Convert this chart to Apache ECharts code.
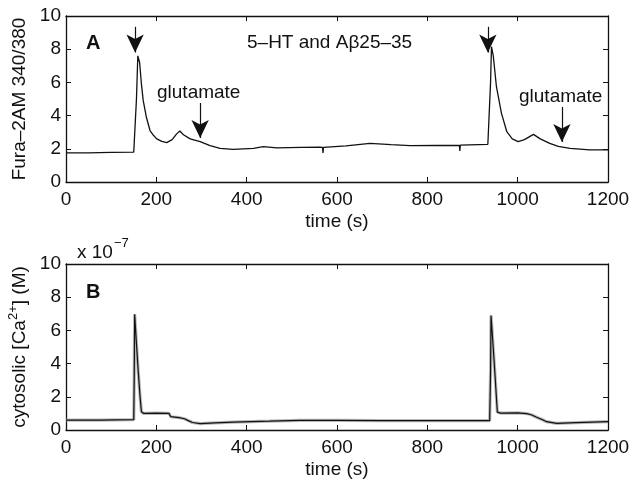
<!DOCTYPE html>
<html>
<head>
<meta charset="utf-8">
<script src="https://cdn.jsdelivr.net/npm/echarts@6.0.0/dist/echarts.min.js"></script>
<style>
  html, body { margin: 0; padding: 0; background: #fff; }
  #chart { width: 632px; height: 482px; }
</style>
</head>
<body>
<div id="chart"></div>
<script>
// time axis ticks (s) and value ticks
const timeTicks = [0, 200, 400, 600, 800, 1000, 1200];
const valueTicks = [0, 2, 4, 6, 8, 10];

// panel A: Fura-2AM 340/380 ratio, [time (s), ratio]
const furaRatio = [
  [0, 1.75], [50, 1.76], [100, 1.78], [150, 1.8], [154, 1.82], [156, 5.0], [159, 7.6],
  [163, 7.2], [167, 5.9], [171, 4.9], [178, 3.9], [186, 3.1], [194, 2.8], [201, 2.6],
  [212, 2.45], [223, 2.37], [235, 2.55], [245, 2.9], [252, 3.07], [260, 2.85], [275, 2.6],
  [297, 2.43], [319, 2.19], [341, 2.03], [370, 1.97], [415, 2.03], [437, 2.13], [467, 2.05],
  [520, 2.08], [562, 2.1], [568, 2.08], [569, 1.75], [570, 2.08], [620, 2.18], [673, 2.33],
  [720, 2.25], [762, 2.19], [820, 2.2], [871, 2.2], [872, 1.87], [873, 2.22], [934, 2.27],
  [938, 2.3], [940, 6.0], [942, 8.15], [946, 7.6], [953, 5.74], [964, 4.15], [976, 3.03],
  [988, 2.6], [1001, 2.43], [1015, 2.55], [1035, 2.87], [1050, 2.6], [1071, 2.33],
  [1090, 2.15], [1116, 2.03], [1160, 1.93], [1200, 1.93]
];

// panel B: cytosolic [Ca2+] in units of 1e-7 M, [time (s), conc]
const cytoCa = [
  [0, 0.6], [75, 0.6], [150, 0.62], [151, 3.0], [152, 6.97], [156, 5.2], [160, 3.5],
  [164, 2.0], [167, 1.1], [172, 1.0], [200, 1.02], [228, 1.0], [232, 0.8], [250, 0.75],
  [262, 0.68], [272, 0.55], [280, 0.45], [297, 0.38], [330, 0.43], [370, 0.48], [450, 0.53],
  [518, 0.58], [600, 0.58], [700, 0.56], [800, 0.56], [900, 0.56], [938, 0.56], [940, 3.5],
  [941, 6.9], [948, 4.1], [955, 1.08], [962, 1.02], [1000, 1.03], [1020, 0.99], [1030, 0.92],
  [1042, 0.77], [1055, 0.62], [1064, 0.5], [1086, 0.4], [1130, 0.45], [1200, 0.5]
];

// stimulus arrows in panel A: [time, from, to]
const arrowsA = [[153, 9.35, 7.8], [297, 4.76, 2.65], [934, 9.35, 7.8], [1098, 4.52, 2.41]];

const font = "Liberation Sans";
const ink = "#111";
const fs = 19;

const chart = echarts.init(document.getElementById("chart"));

function xAx(grid, pos, withLabels) {
  return {
    type: "value", gridIndex: grid, position: pos,
    min: timeTicks[0], max: timeTicks[timeTicks.length - 1], interval: 200,
    name: withLabels ? "time (s)" : "", nameLocation: "middle", nameGap: 30,
    nameTextStyle: { fontFamily: font, fontSize: fs, color: ink },
    axisLine: { show: true, onZero: false, lineStyle: { color: ink, width: 1.3 } },
    axisTick: { show: true, inside: true, length: 5, lineStyle: { color: ink, width: 1 } },
    axisLabel: { show: withLabels, fontFamily: font, fontSize: fs, color: ink, margin: 8,
                 formatter: v => String(v) },
    splitLine: { show: false }
  };
}

function yAx(grid, pos, name) {
  return {
    type: "value", gridIndex: grid, position: pos,
    min: valueTicks[0], max: valueTicks[valueTicks.length - 1], interval: 2,
    name: name || "", nameLocation: "middle", nameGap: 34,
    nameTextStyle: {
      fontFamily: font, fontSize: fs, color: ink,
      rich: { sup: { fontFamily: font, fontSize: 13, color: ink, verticalAlign: "top", padding: [0, 0, 9, 0] },
              n: { fontFamily: font, fontSize: fs, color: ink, verticalAlign: "bottom" } }
    },
    axisLine: { show: true, onZero: false, lineStyle: { color: ink, width: 1.3 } },
    axisTick: { show: true, inside: true, length: 5, lineStyle: { color: ink, width: 1 } },
    axisLabel: { show: !!name, fontFamily: font, fontSize: fs, color: ink, margin: 5 },
    splitLine: { show: false }
  };
}

const option = {
  animation: false,
  backgroundColor: "#fff",
  grid: [
    { left: 66, top: 16, width: 542, height: 166, outerBoundsMode: "none" },
    { left: 66, top: 264, width: 542, height: 166, outerBoundsMode: "none" }
  ],
  xAxis: [xAx(0, "bottom", true), xAx(0, "top", false), xAx(1, "bottom", true), xAx(1, "top", false)],
  yAxis: [
    yAx(0, "left", "Fura–2AM 340/380"), yAx(0, "right"),
    yAx(1, "left", "{n|cytosolic [Ca}{sup|2+}{n|] (M)}"), yAx(1, "right")
  ],
  series: [
    {
      type: "line", xAxisIndex: 0, yAxisIndex: 0, data: furaRatio,
      showSymbol: false, lineStyle: { color: ink, width: 1.3 },
      markLine: {
        silent: true, symbol: ["none", "arrow"], symbolSize: [13, 18],
        label: { show: false },
        lineStyle: { color: ink, width: 1.2, type: "solid" },
        data: arrowsA.map(a => [{ coord: [a[0], a[1]] }, { coord: [a[0], a[2]] }])
      }
    },
    {
      type: "line", xAxisIndex: 2, yAxisIndex: 2, data: cytoCa,
      showSymbol: false, lineStyle: { color: "#9a9a9a", width: 3.2, opacity: 0.7 }
    },
    {
      type: "line", xAxisIndex: 2, yAxisIndex: 2, data: cytoCa,
      showSymbol: false, lineStyle: { color: ink, width: 1.2 }
    }
  ],
  graphic: [
    { type: "text", left: 86, top: 33, style: { text: "A", font: "bold 20px " + font, fill: ink } },
    { type: "text", left: 86, top: 282, style: { text: "B", font: "bold 20px " + font, fill: ink } },
    { type: "text", left: 247, top: 33, style: { text: "5–HT and Aβ25–35", font: fs + "px " + font, fill: ink } },
    { type: "text", left: 157, top: 83, style: { text: "glutamate", font: fs + "px " + font, fill: ink } },
    { type: "text", left: 519, top: 87, style: { text: "glutamate", font: fs + "px " + font, fill: ink } },
    { type: "text", left: 77, top: 243, style: { text: "x 10", font: fs + "px " + font, fill: ink } },
    { type: "text", left: 114, top: 237, style: { text: "−7", font: "13px " + font, fill: ink } }
  ]
};

chart.setOption(option);
</script>
</body>
</html>
